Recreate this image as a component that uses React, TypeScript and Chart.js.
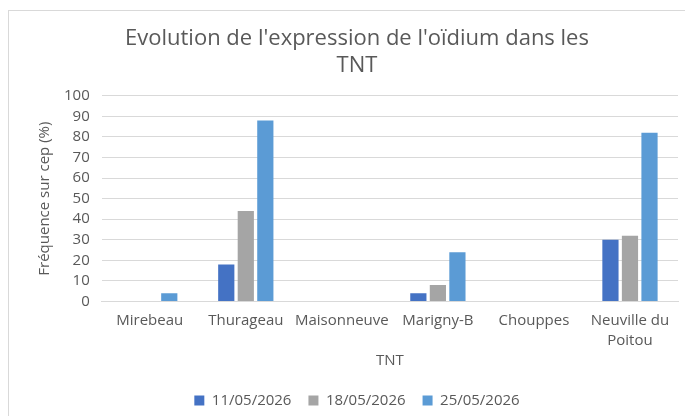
import React, { useEffect, useRef } from "react";
import { Chart, registerables } from "chart.js";

Chart.register(...registerables);

const categories: (string | string[])[] = [
  "Mirebeau",
  "Thurageau",
  "Maisonneuve",
  "Marigny-B",
  "Chouppes",
  ["Neuville du", "Poitou"],
];
const seriesNames = ["11/05/2026", "18/05/2026", "25/05/2026"];
const values1105 = [0, 18, 0, 4, 0, 30];
const values1805 = [0, 44, 0, 8, 0, 32];
const values2505 = [4, 88, 0, 24, 0, 82];
const seriesColors = ["#4472C4", "#A5A5A5", "#5B9BD5"];
const titleLines = ["Evolution de l'expression de l'oïdium dans les", "TNT"];
const yTitle = "Fréquence sur cep (%)";
const xTitle = "TNT";

const FONT = "'Open Sans', 'Noto Sans', sans-serif";
const TEXT = "#595959";

export default function App() {
  const ref = useRef<HTMLCanvasElement | null>(null);
  useEffect(() => {
    if (!ref.current) return;
    const data = [values1105, values1805, values2505];
    const chart = new Chart(ref.current, {
      type: "bar",
      data: {
        labels: categories,
        datasets: seriesNames.map((n, i) => ({
          label: n,
          data: data[i],
          backgroundColor: seriesColors[i],
          borderWidth: 0,
          barPercentage: 0.83,
          categoryPercentage: 0.61,
        })),
      },
      options: {
        animation: false,
        responsive: false,
        maintainAspectRatio: false,
        layout: { padding: { left: 27, right: 15, top: 0, bottom: 0 } },
        plugins: {
          title: {
            display: true,
            text: titleLines,
            color: TEXT,
            font: { family: FONT, size: 22, weight: "normal", lineHeight: 1.2 },
            padding: { top: 15, bottom: 17 },
          },
          legend: {
            position: "bottom",
            labels: {
              color: TEXT,
              font: { family: FONT, size: 15 },
              boxWidth: 10,
              boxHeight: 10,
              padding: 17,
            },
          },
          tooltip: { enabled: false },
        },
        scales: {
          x: {
            grid: { display: false, drawTicks: false },
            border: { color: "#D9D9D9" },
            ticks: {
              color: TEXT,
              font: { family: FONT, size: 15, lineHeight: 1.35 },
              maxRotation: 0,
              autoSkip: false,
              padding: 9,
            },
            title: {
              display: true,
              text: xTitle,
              color: TEXT,
              font: { family: FONT, size: 15 },
              padding: { top: -8, bottom: 6 },
            },
          },
          y: {
            min: 0,
            max: 100,
            grid: { color: "#D9D9D9", drawTicks: false, lineWidth: 1 },
            border: { display: false },
            ticks: {
              stepSize: 10,
              autoSkip: false,
              color: TEXT,
              font: { family: FONT, size: 15 },
              padding: 12,
            },
            title: {
              display: true,
              text: yTitle,
              color: TEXT,
              font: { family: FONT, size: 15 },
              padding: { top: 0, bottom: -2 },
            },
          },
        },
      },
    });
    return () => chart.destroy();
  }, []);
  return (
    <div
      style={{
        marginTop: 2,
        width: 685,
        height: 407,
        overflow: "hidden",
        borderLeft: "1px solid #D9D9D9",
        borderTop: "1px solid #D9D9D9",
        background: "#fff",
      }}
    >
      <canvas ref={ref} width={684} height={407} style={{ display: "block" }} />
    </div>
  );
}
